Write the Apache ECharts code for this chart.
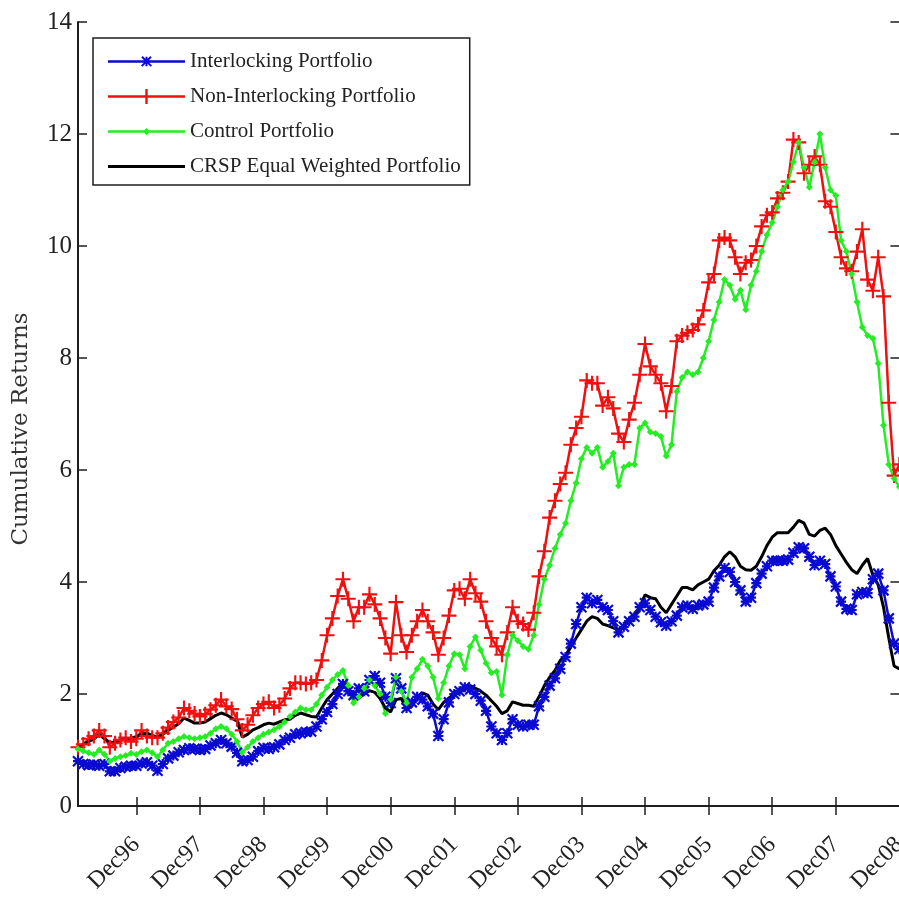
<!DOCTYPE html>
<html>
<head>
<meta charset="utf-8">
<script src="https://cdn.jsdelivr.net/npm/echarts@6/dist/echarts.min.js"></script>
<style>
html,body{margin:0;padding:0;background:#fff;overflow:hidden;width:899px;height:897px;}
#chart{width:910px;height:897px;}
</style>
</head>
<body>
<div id="chart"></div>
<script>
// ---- data (monthly, Jan96 .. Dec08) ----
const monthNames = ['Jan','Feb','Mar','Apr','May','Jun','Jul','Aug','Sep','Oct','Nov','Dec'];
const yearLabels = ['96','97','98','99','00','01','02','03','04','05','06','07','08'];
const tickLabels = ['Dec96','Dec97','Dec98','Dec99','Dec00','Dec01','Dec02','Dec03','Dec04','Dec05','Dec06','Dec07','Dec08'];
const seriesNames = ['Interlocking Portfolio','Non-Interlocking Portfolio','Control Portfolio','CRSP Equal Weighted Portfolio'];
const yTitle = 'Cumulative Returns';

const interlocking = [
  0.80,0.75,0.73,0.74,0.72,0.75,0.62,0.62,0.68,0.70,0.72,0.72,
  0.76,0.78,0.72,0.63,0.75,0.85,0.90,0.96,1.00,1.03,1.02,1.00,
  1.02,1.08,1.12,1.18,1.12,1.06,0.95,0.80,0.82,0.88,0.98,1.04,
  1.02,1.05,1.10,1.18,1.22,1.28,1.30,1.32,1.33,1.42,1.55,1.68,
  1.82,2.00,2.18,2.05,1.98,2.10,2.05,2.25,2.32,2.20,1.95,1.84,
  2.28,2.10,1.75,1.85,1.95,1.90,1.78,1.65,1.25,1.55,1.85,2.00,
  2.05,2.12,2.08,2.00,1.88,1.70,1.42,1.30,1.18,1.30,1.55,1.45,
  1.42,1.45,1.45,1.78,1.95,2.15,2.28,2.45,2.66,2.90,3.25,3.55,
  3.72,3.62,3.68,3.55,3.50,3.30,3.10,3.20,3.30,3.38,3.55,3.62,
  3.50,3.38,3.28,3.22,3.30,3.40,3.55,3.58,3.52,3.58,3.60,3.65,
  3.90,4.10,4.25,4.18,4.00,3.85,3.65,3.72,3.98,4.15,4.28,4.38,
  4.38,4.38,4.40,4.52,4.62,4.60,4.45,4.30,4.38,4.32,4.10,3.92,
  3.65,3.52,3.50,3.78,3.82,3.80,4.05,4.15,3.85,3.35,2.90,2.80
];
const nonInterlocking = [
  1.05,1.10,1.20,1.25,1.35,1.25,1.05,1.12,1.18,1.22,1.15,1.20,
  1.35,1.25,1.22,1.22,1.30,1.40,1.50,1.58,1.75,1.70,1.65,1.60,
  1.64,1.72,1.80,1.90,1.78,1.73,1.55,1.35,1.45,1.62,1.75,1.82,
  1.86,1.75,1.80,1.92,2.10,2.20,2.20,2.18,2.20,2.25,2.60,3.05,
  3.35,3.75,4.05,3.70,3.30,3.55,3.55,3.78,3.60,3.35,3.00,2.72,
  3.64,3.05,2.75,3.05,3.30,3.50,3.30,3.10,2.70,3.00,3.40,3.85,
  3.88,3.70,4.05,3.80,3.65,3.30,3.00,2.85,2.70,3.10,3.55,3.30,
  3.25,3.15,3.45,4.10,4.55,5.15,5.45,5.75,5.95,6.45,6.75,6.95,
  7.60,7.55,7.55,7.15,7.30,7.10,6.65,6.50,6.90,7.20,7.70,8.25,
  7.85,7.70,7.55,7.05,7.50,8.30,8.40,8.45,8.50,8.60,8.85,9.35,
  9.50,10.10,10.15,10.10,9.80,9.50,9.70,9.75,10.00,10.35,10.55,10.60,
  10.85,10.95,11.15,11.90,11.85,11.30,11.45,11.60,11.45,10.80,10.70,10.25,
  9.80,9.60,9.55,9.90,10.30,9.40,9.20,9.80,9.10,7.20,5.90,6.10
];
const control = [
  1.02,0.98,0.95,0.92,1.00,0.92,0.80,0.85,0.88,0.90,0.94,0.92,
  0.97,1.00,0.95,0.88,1.00,1.12,1.15,1.20,1.24,1.22,1.20,1.22,
  1.24,1.30,1.38,1.42,1.38,1.28,1.15,0.96,1.05,1.15,1.22,1.28,
  1.32,1.36,1.42,1.50,1.60,1.68,1.75,1.72,1.72,1.82,1.98,2.12,
  2.25,2.35,2.42,2.15,1.84,1.95,2.10,2.25,2.15,2.00,1.65,1.90,
  2.30,2.05,1.84,2.30,2.45,2.62,2.50,2.30,1.92,2.20,2.50,2.72,
  2.70,2.45,2.85,3.02,2.78,2.55,2.38,2.40,1.98,2.70,3.05,2.95,
  2.85,2.80,3.05,3.60,4.05,4.30,4.60,4.85,5.05,5.45,5.77,6.20,
  6.40,6.30,6.40,6.05,6.15,6.30,5.72,6.05,6.10,6.10,6.75,6.84,
  6.68,6.65,6.60,6.25,6.45,7.40,7.65,7.75,7.70,7.75,8.00,8.30,
  8.68,9.00,9.40,9.30,9.05,9.21,8.86,9.30,9.55,9.90,10.20,10.42,
  10.70,11.00,11.15,11.50,11.85,11.40,11.05,11.50,12.00,11.40,11.00,10.90,
  10.10,9.90,9.50,9.00,8.55,8.40,8.35,7.90,6.80,6.10,5.85,5.70
];
const crsp = [
  1.05,1.10,1.15,1.20,1.28,1.20,1.13,1.14,1.17,1.20,1.21,1.24,
  1.28,1.30,1.26,1.23,1.28,1.35,1.41,1.47,1.57,1.53,1.48,1.48,
  1.50,1.56,1.62,1.66,1.63,1.57,1.52,1.23,1.28,1.36,1.40,1.45,
  1.48,1.46,1.50,1.54,1.55,1.62,1.66,1.63,1.60,1.59,1.75,1.90,
  2.00,2.10,2.20,2.05,1.95,1.93,2.00,2.06,2.03,1.92,1.75,1.68,
  1.90,1.92,1.72,1.78,1.95,2.02,1.98,1.82,1.72,1.85,1.93,2.00,
  2.08,2.12,2.15,2.10,2.05,1.98,1.88,1.78,1.65,1.70,1.86,1.83,
  1.80,1.80,1.78,1.95,2.15,2.30,2.42,2.60,2.68,2.84,3.00,3.15,
  3.30,3.38,3.35,3.25,3.22,3.18,3.15,3.22,3.35,3.42,3.55,3.77,
  3.72,3.70,3.55,3.45,3.60,3.75,3.90,3.90,3.86,3.95,4.00,4.05,
  4.20,4.30,4.45,4.54,4.45,4.28,4.22,4.21,4.28,4.45,4.65,4.80,
  4.88,4.88,4.88,4.98,5.10,5.05,4.85,4.82,4.92,4.96,4.85,4.65,
  4.50,4.35,4.22,4.15,4.30,4.42,4.12,3.95,3.55,3.00,2.50,2.45
];

const months = [];
yearLabels.forEach(y => monthNames.forEach(m => months.push(m + y)));

const isTick = (i, v) => tickLabels.indexOf(v) >= 0;
const AX = '#1e1e1e';
const SERIF = '"Liberation Serif", "Times New Roman", serif';
const C_BLUE = '#0a0ad2', C_RED = '#f01010', C_GREEN = '#22ee22', C_BLACK = '#000';

// marker shapes
const plusPath = 'path://M6,0H8V6H14V8H8V14H6V8H0V6H6Z';
const starPath = 'path://M0,0L10,10M10,0L0,10M5,0L5,10M0,5L10,5';

// legend icons (line + marker), 77 x 20 box, filled shapes
const corners = 'M0,0L0.01,0L0,0.01ZM77,20L76.99,20L77,19.99Z';
const lineRect = (t) => 'M0,' + (10 - t / 2) + 'H77V' + (10 + t / 2) + 'H0Z';
const iconBlue = 'path://' + corners + lineRect(2.5) +
  'M37.5,5.2H39.5V14.8H37.5Z' +
  'M34.7,4.6L44,13.9L42.6,15.3L33.3,6Z' +
  'M43.7,6L34.4,15.3L33,13.9L42.3,4.6Z';
const iconRed = 'path://' + corners + lineRect(2.5) +
  'M37.3,2.5H39.7V17.5H37.3Z' + 'M31,8.8H46V11.2H31Z';
const iconGreen = 'path://' + corners + lineRect(2.5) +
  'M38.5,6.5L42,10L38.5,13.5L35,10Z';
const iconBlack = 'path://' + corners + lineRect(3);

const chart = echarts.init(document.getElementById('chart'), null, {renderer: 'canvas'});
chart.setOption({
  animation: false,
  backgroundColor: '#fff',
  grid: {left: 78, right: 10, top: 22, bottom: 91, containLabel: false},
  legend: {
    orient: 'vertical', left: 93, top: 38,
    padding: [13, 9, 8, 15],
    itemWidth: 77, itemHeight: 20, itemGap: 14,
    symbolKeepAspect: true,
    itemStyle: {borderWidth: 0},
    backgroundColor: '#fff', borderColor: AX, borderWidth: 1.5, borderRadius: 0,
    textStyle: {fontFamily: SERIF, fontSize: 21, color: '#222', lineHeight: 20},
    data: [
      {name: seriesNames[0], icon: iconBlue},
      {name: seriesNames[1], icon: iconRed},
      {name: seriesNames[2], icon: iconGreen},
      {name: seriesNames[3], icon: iconBlack}
    ]
  },
  graphic: [{
    type: 'text', z: 10,
    rotation: Math.PI / 2,
    x: 21, y: 429,
    style: {text: yTitle, font: '23px "DejaVu Serif", serif', fill: '#333',
            textAlign: 'center', textVerticalAlign: 'middle'}
  }],
  xAxis: [{
    type: 'category', data: months, boundaryGap: false, position: 'bottom',
    axisLine: {lineStyle: {color: AX, width: 2}},
    axisTick: {inside: true, length: 9, interval: isTick, lineStyle: {color: AX, width: 1.5}},
    axisLabel: {interval: isTick, rotate: 45, margin: 35, fontFamily: SERIF, fontSize: 24, color: '#222'},
    splitLine: {show: false}
  }, {
    type: 'category', data: months, boundaryGap: false, position: 'top',
    axisLine: {lineStyle: {color: AX, width: 2}},
    axisTick: {inside: true, length: 9, interval: isTick, lineStyle: {color: AX, width: 1.5}},
    axisLabel: {show: false}, splitLine: {show: false}
  }],
  yAxis: [{
    type: 'value', min: 0, max: 14, interval: 2, position: 'left',
    axisLine: {show: true, lineStyle: {color: AX, width: 2}},
    axisTick: {show: true, inside: true, length: 9, lineStyle: {color: AX, width: 1.5}},
    axisLabel: {margin: 6, fontFamily: SERIF, fontSize: 25, color: '#222'},
    splitLine: {show: false}
  }, {
    type: 'value', min: 0, max: 14, interval: 2, position: 'right',
    axisLine: {show: true, lineStyle: {color: AX, width: 2}},
    axisTick: {show: true, inside: true, length: 9, lineStyle: {color: AX, width: 1.5}},
    axisLabel: {show: false}, splitLine: {show: false}
  }],
  series: [{
    name: seriesNames[0], type: 'line', data: interlocking,
    symbol: starPath, symbolSize: 10, showAllSymbol: true,
    lineStyle: {color: C_BLUE, width: 2.5},
    itemStyle: {color: C_BLUE, borderColor: C_BLUE, borderWidth: 2.2}
  }, {
    name: seriesNames[1], type: 'line', data: nonInterlocking,
    symbol: plusPath, symbolSize: 15, showAllSymbol: true,
    lineStyle: {color: C_RED, width: 2.5},
    itemStyle: {color: C_RED, borderWidth: 0}
  }, {
    name: seriesNames[2], type: 'line', data: control,
    symbol: 'diamond', symbolSize: 7, showAllSymbol: true,
    lineStyle: {color: C_GREEN, width: 2.5},
    itemStyle: {color: C_GREEN, borderWidth: 0}
  }, {
    name: seriesNames[3], type: 'line', data: crsp,
    symbol: 'none', showSymbol: false,
    lineStyle: {color: C_BLACK, width: 3},
    itemStyle: {color: C_BLACK}
  }]
});
</script>
</body>
</html>
